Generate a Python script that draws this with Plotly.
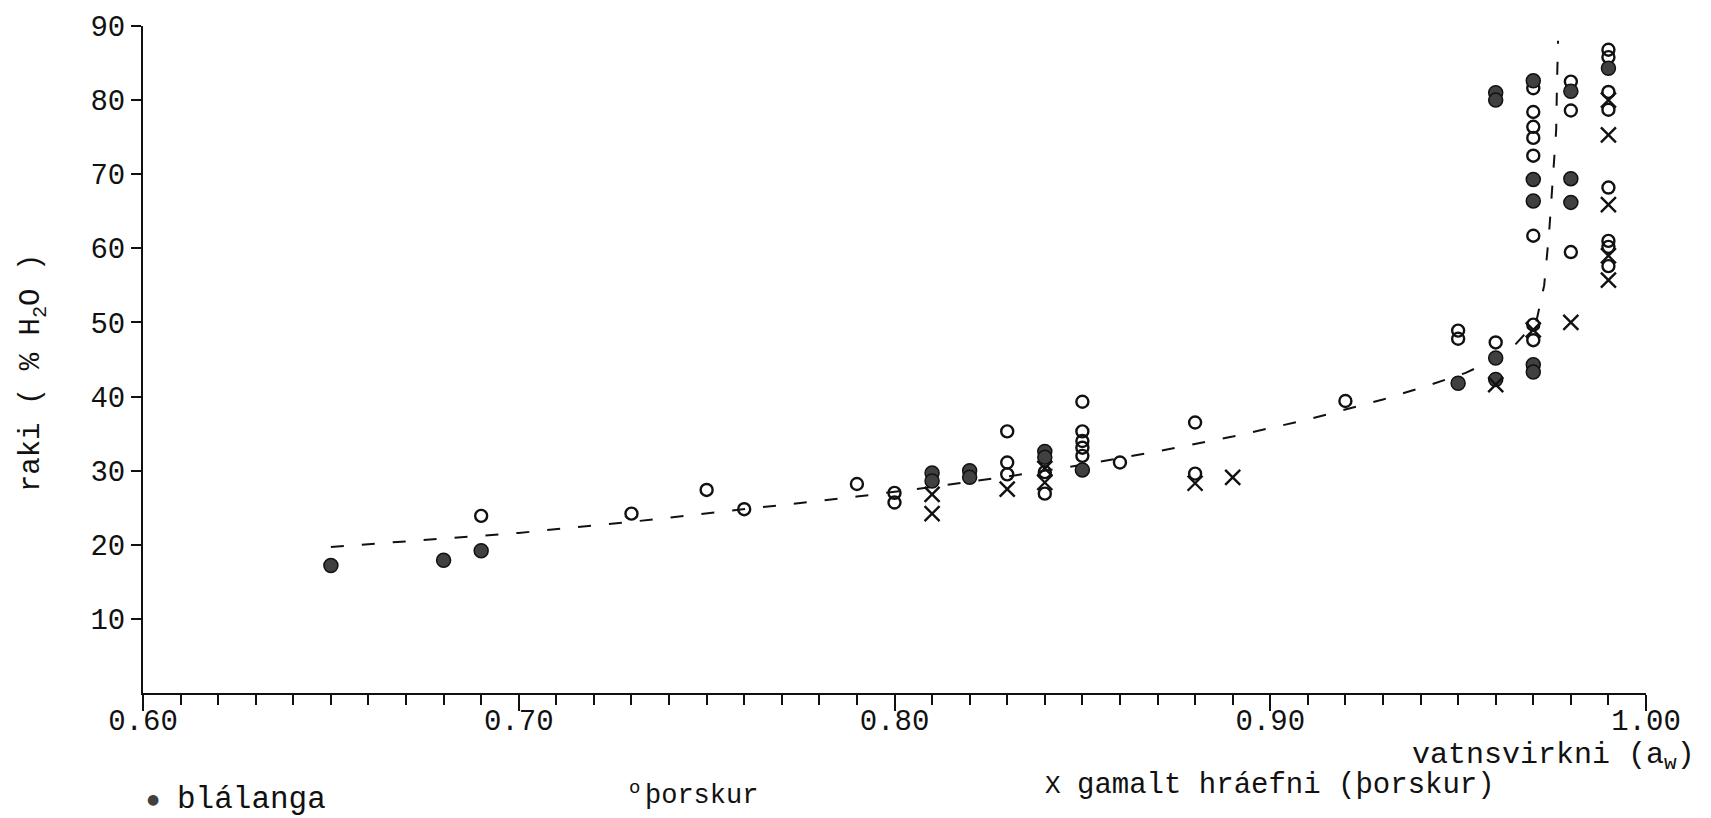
import plotly.graph_objects as go

# blálanga (filled circles)
bla_x = [0.65, 0.68, 0.69, 0.81, 0.81, 0.82, 0.82, 0.84, 0.84, 0.85, 0.95,
         0.96, 0.96, 0.96, 0.96, 0.97, 0.97, 0.97, 0.97, 0.97, 0.98, 0.98, 0.98, 0.99]
bla_y = [17.2, 17.9, 19.2, 29.7, 28.6, 30.0, 29.1, 32.6, 31.8, 30.1, 41.8,
         81.0, 80.0, 45.2, 42.3, 82.6, 69.3, 66.4, 44.3, 43.3, 81.2, 69.4, 66.2, 84.3]

# þorskur (open circles)
thor_x = [0.69, 0.73, 0.75, 0.76, 0.79, 0.80, 0.80, 0.83, 0.83, 0.83, 0.84, 0.84,
          0.85, 0.85, 0.85, 0.85, 0.85, 0.86, 0.88, 0.88, 0.92, 0.95, 0.95, 0.96,
          0.97, 0.97, 0.97, 0.97, 0.97, 0.97, 0.97, 0.97, 0.98, 0.98, 0.98,
          0.99, 0.99, 0.99, 0.99, 0.99, 0.99, 0.99, 0.99]
thor_y = [23.9, 24.2, 27.4, 24.8, 28.2, 27.0, 25.7, 35.3, 31.1, 29.5, 29.8, 26.9,
          39.3, 35.3, 34.0, 33.1, 32.0, 31.1, 36.5, 29.6, 39.4, 48.9, 47.8, 47.3,
          49.7, 47.6, 81.6, 78.4, 76.4, 74.9, 72.5, 61.7, 82.5, 78.6, 59.5,
          86.8, 85.8, 81.1, 78.7, 68.2, 61.0, 60.2, 57.6]

# gamalt hráefni (þorskur) (crosses)
old_x = [0.81, 0.81, 0.83, 0.84, 0.84, 0.88, 0.89, 0.96, 0.97, 0.98,
         0.99, 0.99, 0.99, 0.99, 0.99]
old_y = [26.8, 24.2, 27.5, 30.3, 28.4, 28.3, 29.1, 41.6, 49.0, 50.0,
         80.0, 75.3, 65.9, 59.0, 55.7]

# fitted sorption curve (dashed)
fit_x = [0.65, 0.68, 0.70, 0.73, 0.76, 0.79, 0.81, 0.83, 0.85, 0.87, 0.89,
         0.91, 0.93, 0.9415, 0.952, 0.963, 0.9708, 0.9729, 0.9742, 0.9755,
         0.9761, 0.9763, 0.9766]
fit_y = [19.7, 20.8, 21.6, 23.1, 24.8, 26.5, 27.8, 29.2, 30.8, 32.6, 34.6,
         36.9, 39.6, 41.4, 43.2, 45.8, 50.1, 55.0, 62.0, 72.4, 76.0, 82.0, 88.0]

x_ticks = [0.60, 0.70, 0.80, 0.90, 1.00]
y_ticks = [10, 20, 30, 40, 50, 60, 70, 80, 90]

FONT = "Liberation Mono, Courier New, monospace"
INK = "#111111"

fig = go.Figure()

fig.add_trace(go.Scatter(
    x=fit_x, y=fit_y, mode="lines", name="fit",
    line=dict(color=INK, width=2, dash="13px,18px"),
    showlegend=False, hoverinfo="skip"))

fig.add_trace(go.Scatter(
    x=thor_x, y=thor_y, mode="markers", name="þorskur",
    marker=dict(symbol="circle-open", size=12, color=INK, line=dict(width=2.4, color=INK)),
    cliponaxis=False, showlegend=False))

fig.add_trace(go.Scatter(
    x=bla_x, y=bla_y, mode="markers", name="blálanga",
    marker=dict(symbol="circle", size=14, color="#404040", line=dict(width=1.5, color=INK)),
    cliponaxis=False, showlegend=False))

fig.add_trace(go.Scatter(
    x=old_x, y=old_y, mode="markers", name="gamalt hráefni (þorskur)",
    marker=dict(symbol="x-thin", size=15, color=INK, line=dict(width=2.4, color=INK)),
    cliponaxis=False, showlegend=False))

fig.update_layout(
    width=1711, height=818,
    margin=dict(l=143, r=65, t=22, b=125),
    paper_bgcolor="white", plot_bgcolor="white",
    font=dict(family=FONT, size=29, color=INK),
    xaxis=dict(
        range=[0.60, 1.00], tickvals=x_ticks, ticktext=[f"{v:.2f}" for v in x_ticks],
        showgrid=False, zeroline=False, showline=True, linecolor=INK, linewidth=2,
        ticks="outside", ticklen=16, tickwidth=2, tickcolor=INK, ticklabelstandoff=-16,
        minor=dict(dtick=0.01, tick0=0.60, ticks="outside", ticklen=10, tickwidth=2, tickcolor=INK, showgrid=False),
        tickfont=dict(family=FONT, size=29, color=INK),
    ),
    yaxis=dict(
        range=[0, 90], tickvals=y_ticks,
        showgrid=False, zeroline=False, showline=True, linecolor=INK, linewidth=2,
        ticks="outside", ticklen=10, tickwidth=2, tickcolor=INK,
        tickfont=dict(family=FONT, size=29, color=INK),
    ),
)

annotations = [
    # axis titles
    dict(text="raki ( % H<sub>2</sub>O )", x=-0.073, y=0.48, xref="paper", yref="paper",
         xanchor="center", yanchor="middle",
         textangle=-90, showarrow=False, font=dict(family=FONT, size=29, color=INK)),
    dict(text="vatnsvirkni (a<sub>w</sub>)", x=1.034, y=-0.095, xref="paper", yref="paper",
         xanchor="right", yanchor="middle", showarrow=False, font=dict(family=FONT, size=30, color=INK)),
    # key
    dict(text="●", x=0.0067, y=-0.159, xref="paper", yref="paper", xanchor="center", yanchor="middle",
         showarrow=False, font=dict(family="DejaVu Sans", size=14, color="#404040")),
    dict(text="blálanga", x=0.0213, y=-0.159, xref="paper", yref="paper", xanchor="left", yanchor="middle",
         showarrow=False, font=dict(family=FONT, size=31, color=INK)),
    dict(text="o", x=0.327, y=-0.142, xref="paper", yref="paper", xanchor="center", yanchor="middle",
         showarrow=False, font=dict(family=FONT, size=19, color=INK)),
    dict(text="þorskur", x=0.333, y=-0.155, xref="paper", yref="paper", xanchor="left", yanchor="middle",
         showarrow=False, font=dict(family=FONT, size=27, color=INK)),
    dict(text="X", x=0.6055, y=-0.139, xref="paper", yref="paper", xanchor="center", yanchor="middle",
         showarrow=False, font=dict(family=FONT, size=26, color=INK)),
    dict(text="gamalt hráefni (þorskur)", x=0.6201, y=-0.139, xref="paper", yref="paper",
         xanchor="left", yanchor="middle", showarrow=False, font=dict(family=FONT, size=29, color=INK)),
]
fig.update_layout(annotations=annotations)

fig.write_html("out.html")
